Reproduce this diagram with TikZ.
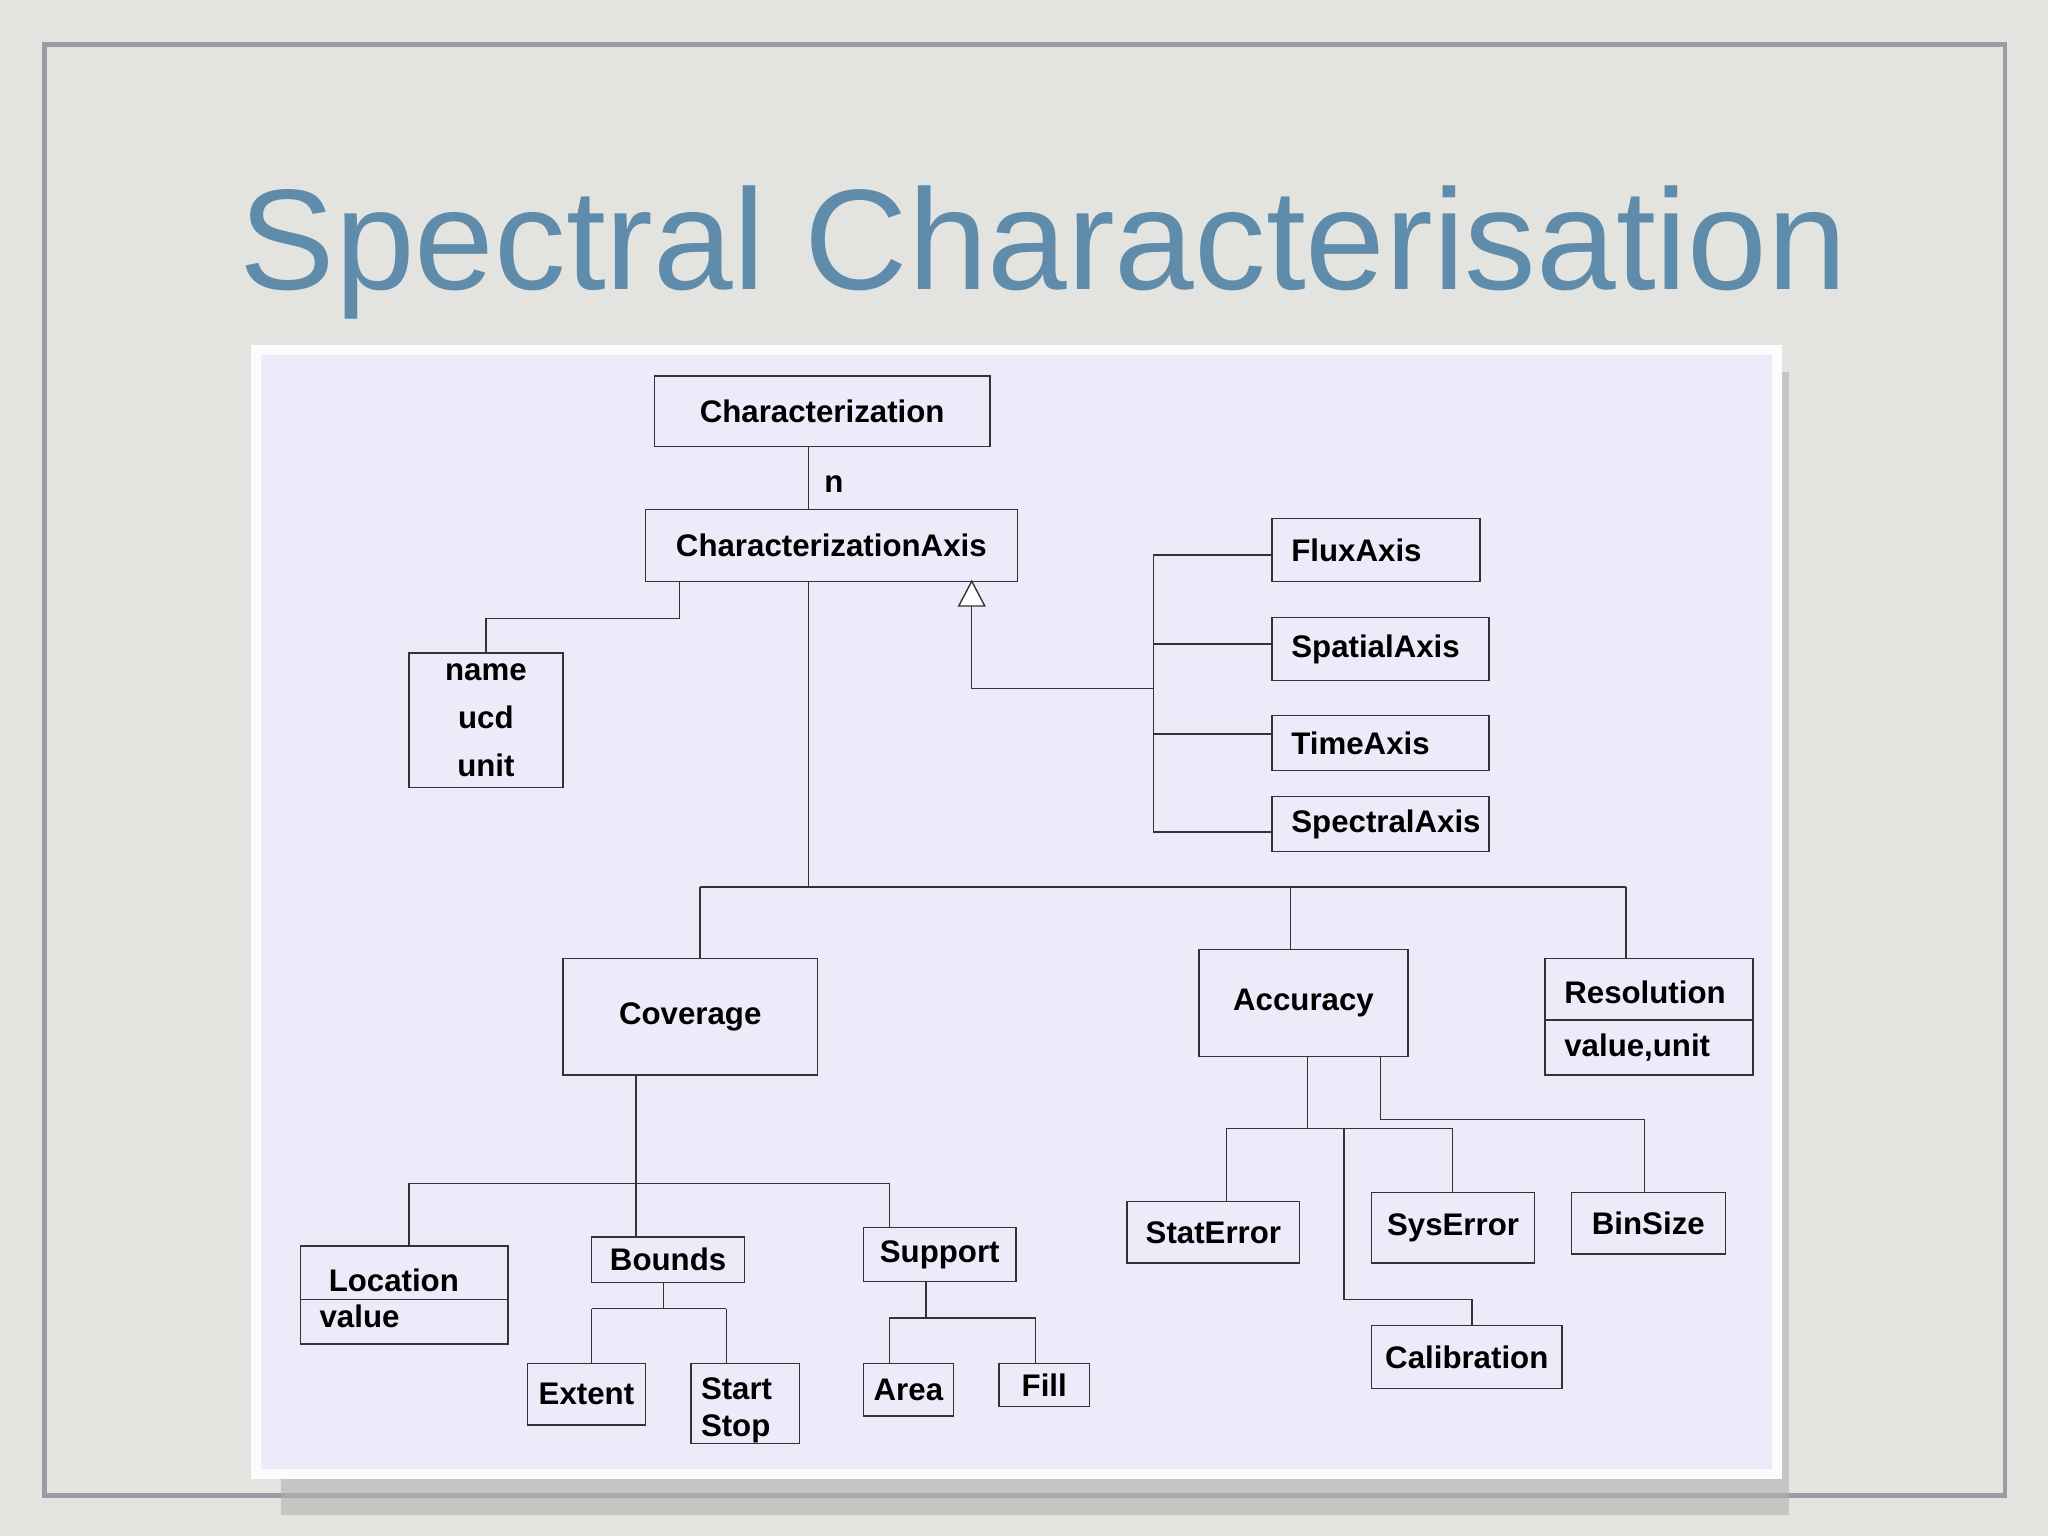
\documentclass[tikz,border=0pt]{standalone}
\usepackage{fontspec}
\setmainfont{Liberation Sans}
\usepackage{graphicx}
\definecolor{bgc}{HTML}{E3E4DF}
\definecolor{framec}{HTML}{9A9CA3}
\definecolor{paper}{HTML}{EBEBFA}
\definecolor{titlec}{HTML}{5F8CAB}
\tikzset{box/.style={draw=black!80, line width=0.3pt, inner sep=0pt, font=\fontsize{6.8pt}{8.4pt}\selectfont\bfseries, align=center},
 ln/.style={draw=black!80, line width=0.3pt},
 lbl/.style={font=\fontsize{6.8pt}{8pt}\selectfont\bfseries, anchor=west, inner sep=0pt}}
\newcommand{\bx}[6]{\node[box, minimum width={(#4-#2)*0.01cm}, minimum height={(#5-#3)*0.01cm}] (#1) at ({(#2+#4)/2},{(#3+#5)/2}) {#6};}
\newcommand{\lbx}[6]{\node[box, minimum width={(#4-#2)*0.01cm}, minimum height={(#5-#3)*0.01cm}] (#1) at ({(#2+#4)/2},{(#3+#5)/2}) {};\node[lbl] (#1t) at ({#2+14},{(#3+#5)/2}) {#6};}
\begin{document}
\begin{tikzpicture}[x=0.01cm,y=-0.01cm]
\fill[bgc] (0,0) rectangle (1568,1176);
\useasboundingbox (0,0) rectangle (1568,1176);
\draw[framec, line width=1pt] (34,34) rectangle (1535,1145);
\node[text=titlec, anchor=base] (title) at (799,222) {\resizebox{12.3cm}{!}{\fontsize{30pt}{34pt}\selectfont Spectral Characterisation}};
\fill[black!30, opacity=0.6] (215,285) rectangle (1370,1160);
\fill[white!85!paper] (192,264) rectangle (1364,1132);
\fill[paper] (200,272) rectangle (1357,1125);
\bx{char}{501}{288}{758}{342}{Characterization}
\bx{axis}{494}{390}{779}{445}{CharacterizationAxis}
\bx{nuu}{313}{500}{431}{603}{name\\[2pt]ucd\\[2pt]unit}
\lbx{flux}{974}{397}{1133}{445}{FluxAxis}
\lbx{spat}{974}{473}{1140}{521}{SpatialAxis}
\lbx{time}{974}{548}{1140}{590}{TimeAxis}
\lbx{spec}{974}{610}{1140}{652}{SpectralAxis}
\bx{cov}{431}{734}{626}{823}{Coverage}
\bx{acc}{918}{727}{1078}{809}{Accuracy}
\node[box, minimum width=1.59cm, minimum height=0.89cm] (res) at (1262.5,778.5) {};
\draw[ln] (1183,781) -- (1342,781);
\node[lbl] (resa) at (1197,760) {Resolution};
\node[lbl] (resb) at (1197,802) {value,unit};
\node[box, minimum width=1.59cm, minimum height=0.75cm] (loc) at (309.5,991.5) {};
\draw[ln] (230,995) -- (389,995);
\node[lbl] (loca) at (251,980) {Location};
\node[lbl] (locb) at (244,1008) {value};
\bx{bnd}{453}{947}{570}{982}{Bounds}
\bx{sup}{661}{940}{778}{981}{Support}
\bx{ext}{404}{1044}{494}{1091}{Extent}
\node[box, minimum width=0.83cm, minimum height=0.61cm] (ss) at (570.5,1074.5) {};
\node[lbl] (ssa) at (536,1063) {Start};
\node[lbl] (ssb) at (536,1094) {Stop};
\bx{area}{661}{1044}{730}{1084}{Area}
\bx{fill}{765}{1044}{834}{1077}{Fill}
\bx{stat}{863}{920}{995}{967}{StatError}
\bx{sys}{1050}{913}{1175}{967}{SysError}
\bx{bin}{1203}{913}{1321}{960}{BinSize}
\bx{cal}{1050}{1015}{1196}{1063}{Calibration}
% connectors
\draw[ln] (char.south -| 619,0) -- (axis.north -| 619,0) node[pos=0.6, right, font=\fontsize{6.8pt}{8pt}\selectfont\bfseries] {n};
\draw[ln] (axis.south west) ++(27,0) -- ++(0,28) -| (nuu.north);
\coordinate (hub) at (619,679);
\draw[ln] (619,445) -- (hub);
\draw[ln] (536,679) -- (1245,679);
\draw[ln] (536,679) -- (536,734);
\draw[ln] (988,679) -- (988,727);
\draw[ln] (1245,679) -- (1245,734);
\draw[ln] (744,464) -- (744,527) -- (883,527);
\draw[ln] (883,425) -- (883,637);
\draw[ln] (883,425) -- (974,425);
\draw[ln] (883,493) -- (974,493);
\draw[ln] (883,562) -- (974,562);
\draw[ln] (883,637) -- (974,637);
\draw[ln, fill=white] (744,445) -- (734,464) -- (754,464) -- cycle;
\draw[ln] (487,823) -- (487,906);
\draw[ln] (313,906) -- (681,906);
\draw[ln] (313,906) -- (313,954);
\draw[ln] (487,906) -- (487,947);
\draw[ln] (681,906) -- (681,940);
\draw[ln] (508,982) -- (508,1002);
\draw[ln] (453,1002) -- (556,1002);
\draw[ln] (453,1002) -- (453,1044);
\draw[ln] (556,1002) -- (556,1044);
\draw[ln] (709,981) -- (709,1009);
\draw[ln] (681,1009) -- (793,1009);
\draw[ln] (681,1009) -- (681,1044);
\draw[ln] (793,1009) -- (793,1044);
\draw[ln] (1001,809) -- (1001,864);
\draw[ln] (939,864) -- (1112,864);
\draw[ln] (939,864) -- (939,920);
\draw[ln] (1112,864) -- (1112,913);
\draw[ln] (1029,864) -- (1029,995) -- (1127,995) -- (1127,1015);
\draw[ln] (1057,809) -- (1057,857) -- (1259,857) -- (1259,913);
\end{tikzpicture}
\end{document}
